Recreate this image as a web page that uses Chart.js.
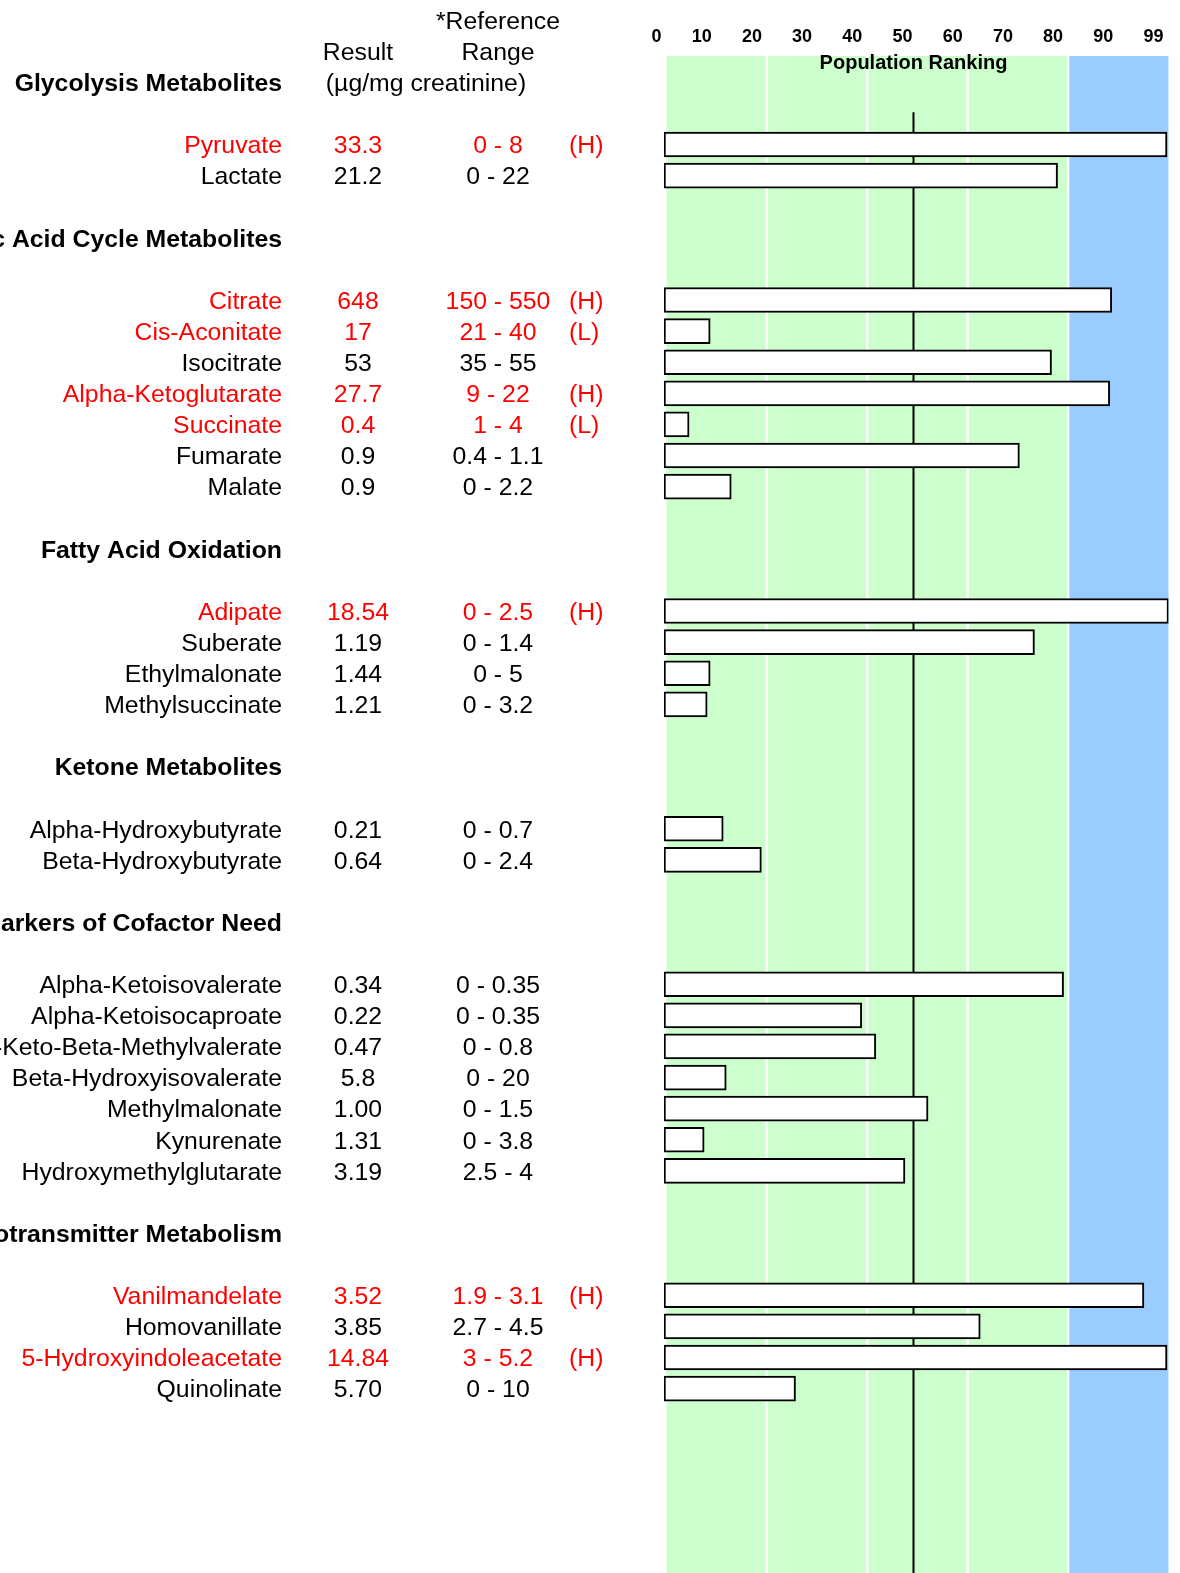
<!DOCTYPE html>
<html>
<head>
<meta charset="utf-8">
<script src="https://cdn.jsdelivr.net/npm/chart.js@4.4.1/dist/chart.umd.min.js"></script>
<style>
  html, body { margin: 0; padding: 0; background: #fff; }
  #wrap { position: relative; width: 1180px; height: 1573px; }
</style>
</head>
<body>
<div id="wrap"><canvas id="orgChart"></canvas></div>
<script>
// Organic acids panel: table on the left, population ranking bars on the right.

const sections = [
  "Glycolysis Metabolites",
  "Citric Acid Cycle Metabolites",
  "Fatty Acid Oxidation",
  "Ketone Metabolites",
  "Markers of Cofactor Need",
  "Neurotransmitter Metabolism",
];
const sectionSizes = [2, 7, 4, 2, 7, 4];

const metabolites = [
  "Pyruvate", "Lactate",
  "Citrate", "Cis-Aconitate", "Isocitrate", "Alpha-Ketoglutarate", "Succinate", "Fumarate", "Malate",
  "Adipate", "Suberate", "Ethylmalonate", "Methylsuccinate",
  "Alpha-Hydroxybutyrate", "Beta-Hydroxybutyrate",
  "Alpha-Ketoisovalerate", "Alpha-Ketoisocaproate", "Alpha-Keto-Beta-Methylvalerate", "Beta-Hydroxyisovalerate",
  "Methylmalonate", "Kynurenate", "Hydroxymethylglutarate",
  "Vanilmandelate", "Homovanillate", "5-Hydroxyindoleacetate", "Quinolinate",
];
const results = [
  "33.3", "21.2",
  "648", "17", "53", "27.7", "0.4", "0.9", "0.9",
  "18.54", "1.19", "1.44", "1.21",
  "0.21", "0.64",
  "0.34", "0.22", "0.47", "5.8", "1.00", "1.31", "3.19",
  "3.52", "3.85", "14.84", "5.70",
];
const ranges = [
  "0 - 8", "0 - 22",
  "150 - 550", "21 - 40", "35 - 55", "9 - 22", "1 - 4", "0.4 - 1.1", "0 - 2.2",
  "0 - 2.5", "0 - 1.4", "0 - 5", "0 - 3.2",
  "0 - 0.7", "0 - 2.4",
  "0 - 0.35", "0 - 0.35", "0 - 0.8", "0 - 20", "0 - 1.5", "0 - 3.8", "2.5 - 4",
  "1.9 - 3.1", "2.7 - 4.5", "3 - 5.2", "0 - 10",
];
const flags = [
  "H", "",
  "H", "L", "", "H", "L", "", "",
  "H", "", "", "",
  "", "",
  "", "", "", "", "", "", "",
  "H", "", "H", "",
];
// population ranking (percentile)
const rankings = [
  99.7, 77.9,
  88.7, 8.7, 76.7, 88.3, 4.5, 70.3, 12.9,
  100, 73.3, 8.7, 8.1,
  11.3, 18.9,
  79.1, 38.9, 41.7, 11.9, 52.1, 7.5, 47.5,
  95.1, 62.5, 99.7, 25.7,
];

const rankTicks = [0, 10, 20, 30, 40, 50, 60, 70, 80, 90, 100];
const rankTickLabels = ["0", "10", "20", "30", "40", "50", "60", "70", "80", "90", "99"];
const bandEdges = [0, 20, 40, 60, 80, 100];
const bandColors = ["#ccffcc", "#ccffcc", "#ccffcc", "#ccffcc", "#99ccff"];
const MEDIAN_RANK = 49.2;

const FONT = "'Liberation Sans', Arial, Helvetica, sans-serif";
const RED = "#ff0000";
const TEXT_DY = 2;

// row index of each section header and each metabolite
const headerRows = [];
const itemRows = [];
let r = 0;
sectionSizes.forEach(n => {
  headerRows.push(r);
  for (let k = 0; k < n; k++) itemRows.push(r + 2 + k);
  r += n + 3;
});

const tablePlugin = {
  id: "tablePlugin",
  beforeDatasetsDraw(chart) {
    const { ctx, chartArea, scales } = chart;
    const x = scales.x, y = scales.y;
    ctx.save();
    // quintile bands
    for (let i = 0; i < bandColors.length; i++) {
      const x0 = x.getPixelForValue(bandEdges[i]);
      const x1 = x.getPixelForValue(bandEdges[i + 1]);
      ctx.fillStyle = bandColors[i];
      ctx.fillRect(x0, chartArea.top, x1 - x0, chartArea.bottom - chartArea.top);
    }
    ctx.strokeStyle = "#ffffff";
    ctx.lineWidth = 2.5;
    for (let i = 1; i < bandEdges.length - 1; i++) {
      const px = x.getPixelForValue(bandEdges[i]);
      ctx.beginPath();
      ctx.moveTo(px, chartArea.top);
      ctx.lineTo(px, chartArea.bottom);
      ctx.stroke();
    }
    // median line
    const mx = x.getPixelForValue(MEDIAN_RANK);
    ctx.strokeStyle = "#000";
    ctx.lineWidth = 2;
    ctx.beginPath();
    ctx.moveTo(mx, y.getPixelForValue(0.96));
    ctx.lineTo(mx, chartArea.bottom);
    ctx.stroke();
    ctx.restore();
  },
  afterDraw(chart) {
    const { ctx, scales } = chart;
    const x = scales.x, y = scales.y;
    const nameX = 282, resX = 358, rangeX = 498, flagX = 569;
    const rowY = row => y.getPixelForValue(row) + TEXT_DY;
    ctx.save();
    ctx.textBaseline = "middle";

    ctx.fillStyle = "#000";
    ctx.font = "bold 20px " + FONT;
    ctx.textAlign = "center";
    ctx.fillText("Population Ranking", x.getPixelForValue(MEDIAN_RANK), 63);

    ctx.font = "24.8px " + FONT;
    ctx.fillText("*Reference", rangeX, rowY(-2));
    ctx.fillText("Result", resX, rowY(-1));
    ctx.fillText("Range", rangeX, rowY(-1));
    ctx.fillText("(\u00b5g/mg creatinine)", 426, rowY(0));

    ctx.font = "bold 24.8px " + FONT;
    ctx.textAlign = "right";
    sections.forEach((s, i) => ctx.fillText(s, nameX, rowY(headerRows[i])));

    ctx.font = "24.8px " + FONT;
    metabolites.forEach((m, i) => {
      const py = rowY(itemRows[i]);
      ctx.fillStyle = flags[i] ? RED : "#000";
      ctx.textAlign = "right";
      ctx.fillText(m, nameX, py);
      ctx.textAlign = "center";
      ctx.fillText(results[i], resX, py);
      ctx.fillText(ranges[i], rangeX, py);
      if (flags[i]) {
        ctx.textAlign = "left";
        ctx.fillText("(" + flags[i] + ")", flagX, py);
      }
    });
    ctx.restore();
  },
};

const ctx = document.getElementById("orgChart").getContext("2d");
new Chart(ctx, {
  type: "bar",
  data: {
    datasets: [{
      data: rankings.map((v, i) => ({ x: v, y: itemRows[i] })),
      backgroundColor: "#ffffff",
      borderColor: "#000000",
      borderWidth: 2,
      borderSkipped: false,
      barThickness: 25,
      base: -0.5,
    }],
  },
  options: {
    indexAxis: "y",
    responsive: true,
    maintainAspectRatio: false,
    animation: false,
    devicePixelRatio: 1,
    layout: { padding: { left: 664, right: 11.5, top: 0, bottom: 0 } },
    plugins: { legend: { display: false }, tooltip: { enabled: false } },
    scales: {
      x: {
        type: "linear",
        position: "top",
        min: -0.5,
        max: 100,
        afterBuildTicks: s => { s.ticks = rankTicks.map(v => ({ value: v })); },
        afterFit: s => { s.height = 56; },
        grid: { display: false, drawTicks: false },
        border: { display: false },
        ticks: {
          autoSkip: false,
          maxRotation: 0,
          align: "end",
          labelOffset: -5,
          padding: 8,
          color: "#000",
          font: { family: FONT, size: 18, weight: "bold" },
          callback: (v, i) => rankTickLabels[i],
        },
      },
      y: {
        type: "linear",
        reverse: true,
        offset: false,
        grace: 0,
        min: -0.846,
        max: 47.93,
        display: false,
      },
    },
  },
  plugins: [tablePlugin],
});
</script>
</body>
</html>
